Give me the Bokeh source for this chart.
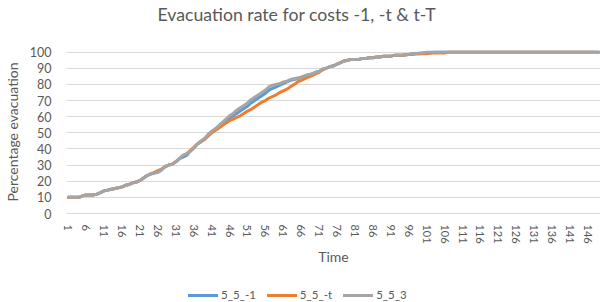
from bokeh.plotting import figure
from bokeh.models import Range1d, FixedTicker, Legend, LegendItem, Title
from bokeh.layouts import column
from bokeh.embed import file_html
from bokeh.resources import INLINE

title_text = "Evacuation rate for costs -1, -t & t-T"
x_label = "Time"
y_label = "Percentage evacuation"

series_names = ["5_5_-1", "5_5_-t", "5_5_3"]
series_colors = ["#5B9BD5", "#ED7D31", "#A5A5A5"]

s_minus1 = [
    10, 10, 10, 10, 11, 11.5, 11.5, 11.5, 12, 13,
    14, 14.5, 15, 15.5, 16, 16.5, 17.5, 18, 19, 19.5,
    20.5, 22, 23.5, 24.5, 25, 25.5, 27, 29, 30, 30.5,
    32, 34, 35, 36, 38.5, 40.5, 43, 44.5, 46, 48.5,
    50.5, 52, 54, 55.5, 57.5, 59, 60.5, 62, 63.5, 65,
    66.5, 68.5, 70, 71.5, 73, 74.5, 76.5, 77.5, 78.5, 79.5,
    80.5, 81.5, 82.5, 83, 83.5, 84.5, 85, 86, 86.5, 87.5,
    88, 89.5, 90, 91, 91.5, 92.5, 93.5, 94.5, 95, 95.5,
    95.5, 95.5, 96, 96, 96.5, 96.5, 97, 97, 97.5, 97.5,
    97.5, 98, 98, 98, 98.5, 98.5, 99, 99, 99, 99.5,
    99.5, 99.5, 100, 100, 100, 100, 100, 100, 100, 100,
    100, 100, 100, 100, 100, 100, 100, 100, 100, 100,
    100, 100, 100, 100, 100, 100, 100, 100, 100, 100,
    100, 100, 100, 100, 100, 100, 100, 100, 100, 100,
    100, 100, 100, 100, 100, 100, 100, 100, 100,
]

s_minus_t = [
    10, 10, 10, 10, 11, 11.5, 11.5, 11.5, 12, 13,
    14, 14.5, 15, 15.5, 16, 16.5, 17.5, 18, 19, 19.5,
    20.5, 22, 23.5, 24.5, 25.5, 26.5, 27.5, 29, 30, 30.5,
    32, 34, 36, 37, 39, 41, 43, 44.5, 46, 48,
    50, 51.5, 53, 54.5, 56, 57.5, 58.5, 59.5, 60.5, 62,
    63.5, 64.5, 66, 67.5, 69, 70, 71.5, 72.5, 73.5, 75,
    76, 77, 78.5, 80, 81.5, 82.5, 83.5, 84.5, 85.5, 86.5,
    87.5, 89, 90, 91, 91.5, 92.5, 93.5, 94.5, 95, 95.5,
    95.5, 95.5, 96, 96, 96.5, 96.5, 97, 97, 97.5, 97.5,
    97.5, 98, 98, 98, 98, 98.5, 98.5, 99, 99, 99,
    99, 99.5, 99.5, 99.5, 99.5, 99.5, 100, 100, 100, 100,
    100, 100, 100, 100, 100, 100, 100, 100, 100, 100,
    100, 100, 100, 100, 100, 100, 100, 100, 100, 100,
    100, 100, 100, 100, 100, 100, 100, 100, 100, 100,
    100, 100, 100, 100, 100, 100, 100, 100, 100,
]

s_3 = [
    10, 10, 10, 10, 11, 11.5, 11.5, 11.5, 12, 13,
    14, 14.5, 15, 15.5, 16, 16.5, 17.5, 18, 19, 19.5,
    20.5, 22, 23.5, 24.5, 25, 25.5, 27, 29, 30, 30.5,
    32, 34, 36, 37, 38.5, 40.5, 43, 45, 46.5, 49,
    51, 52.5, 54.5, 56.5, 58.5, 60.5, 62, 64, 65.5, 67,
    68.5, 70.5, 72, 73.5, 75, 76.5, 78.5, 79.5, 80, 80.5,
    81.5, 82, 83, 83.5, 84, 84.5, 85.5, 86, 86.5, 87.5,
    88, 89.5, 90, 91, 91.5, 92.5, 93.5, 94.5, 95, 95.5,
    95.5, 95.5, 96, 96, 96.5, 96.5, 97, 97, 97.5, 97.5,
    97.5, 98, 98, 98, 98.5, 98.5, 99, 99, 99.5, 99.5,
    100, 100, 100, 100, 100, 100, 100, 100, 100, 100,
    100, 100, 100, 100, 100, 100, 100, 100, 100, 100,
    100, 100, 100, 100, 100, 100, 100, 100, 100, 100,
    100, 100, 100, 100, 100, 100, 100, 100, 100, 100,
    100, 100, 100, 100, 100, 100, 100, 100, 100,
]

n_time = 149
x_ticks = [1, 6, 11, 16, 21, 26, 31, 36, 41, 46, 51, 56, 61, 66, 71, 76, 81, 86,
           91, 96, 101, 106, 111, 116, 121, 126, 131, 136, 141, 146]
y_ticks = [0, 10, 20, 30, 40, 50, 60, 70, 80, 90, 100]
all_series = [s_minus1, s_minus_t, s_3]

FONT = "Lato"
TXT = "#595959"
W = 600

# ---- main chart ----
p = figure(width=W, height=281, output_backend="svg", toolbar_location=None,
           x_range=Range1d(0.5, n_time + 0.5), y_range=Range1d(0, 101),
           min_border_left=61, min_border_right=0, min_border_top=50,
           min_border_bottom=68)
p.outline_line_color = None
p.background_fill_color = "white"

# real title, with a blank spacer title stacked between it and the frame
p.title.text = title_text
p.title.align = "left"
p.title.offset = 91
p.title.text_font = FONT
p.title.text_font_size = "17.7px"
p.title.text_font_style = "normal"
p.title.text_color = TXT
p.title.standoff = 0
p.add_layout(Title(text=" ", text_font_size="18px", standoff=4), "above")

for ys, col in zip(all_series, series_colors):
    xs = list(range(1, len(ys) + 1))
    p.line(xs, ys, line_color=col, line_width=3, line_join="round", line_cap="round")

p.xgrid.grid_line_color = None
p.ygrid.grid_line_color = "#d9d9d9"
p.ygrid.grid_line_width = 1

p.xaxis.ticker = FixedTicker(ticks=x_ticks)
p.yaxis.ticker = FixedTicker(ticks=y_ticks)
p.xaxis.major_label_orientation = "vertical"
for ax in (p.xaxis, p.yaxis):
    ax.major_tick_line_color = None
    ax.minor_tick_line_color = None
    ax.major_label_text_font = FONT
    ax.major_label_text_color = TXT
    ax.axis_label_text_font = FONT
    ax.axis_label_text_color = TXT
    ax.axis_label_text_font_style = "normal"
    ax.axis_label_text_font_size = "14px"
p.xaxis.major_label_text_font_size = "11px"
p.yaxis.major_label_text_font_size = "12.5px"
p.xaxis.axis_line_color = "#d9d9d9"
p.yaxis.axis_line_color = None
p.xaxis.major_label_standoff = 5
p.yaxis.major_label_standoff = 9
p.xaxis.axis_label = x_label
p.yaxis.axis_label = y_label
p.xaxis.axis_label_standoff = 1
p.yaxis.axis_label_standoff = 6

# ---- legend strip (series drawn outside its window; only legend glyphs show) ----
pl = figure(width=W, height=20, output_backend="svg", toolbar_location=None,
            x_axis_type=None, y_axis_type=None, min_border=0,
            x_range=Range1d(0, 1), y_range=Range1d(0, 1))
pl.outline_line_color = None
pl.xgrid.grid_line_color = None
pl.ygrid.grid_line_color = None
leg_renderers = []
for ys, col in zip(all_series, series_colors):
    xs = list(range(1, len(ys) + 1))
    leg_renderers.append(pl.line(xs, ys, line_color=col, line_width=3, line_cap="round"))

legend = Legend(items=[LegendItem(label=n, renderers=[r]) for n, r in zip(series_names, leg_renderers)],
                orientation="horizontal", location=(122, 0))
legend.border_line_color = None
legend.background_fill_alpha = 0
legend.label_text_font = FONT
legend.label_text_font_size = "11.5px"
legend.label_text_color = TXT
legend.label_height = 12
legend.glyph_width = 30
legend.glyph_height = 12
legend.label_standoff = 3
legend.spacing = 11
legend.padding = 0
legend.margin = 0
pl.add_layout(legend, "center")

layout = column(p, pl, spacing=0)
open("out.html", "w").write(file_html(layout, INLINE))
